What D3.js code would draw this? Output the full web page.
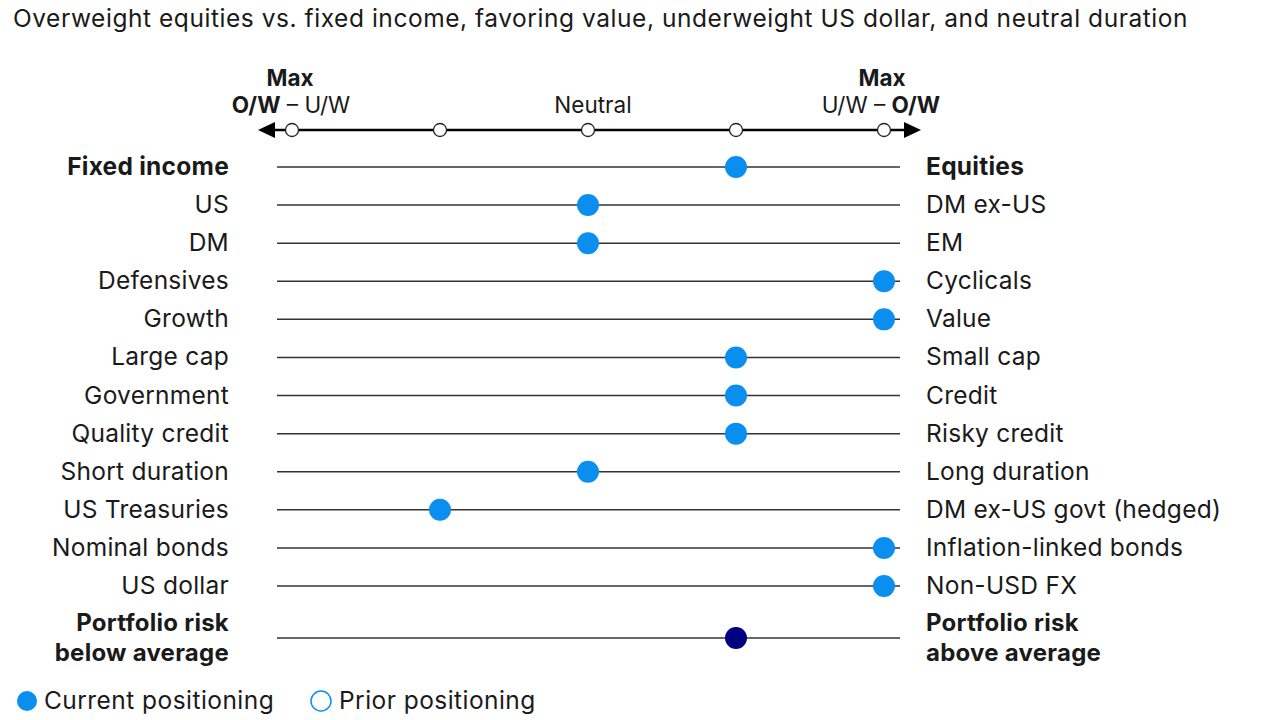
<!DOCTYPE html>
<html>
<head>
<meta charset="utf-8">
<script src="https://cdn.jsdelivr.net/npm/d3@7"></script>
<style>
  body { margin: 0; background: #fff; }
  text { font-family: Inter, "Noto Sans", sans-serif; fill: #1a1a1a; }
</style>
</head>
<body>
<script>
// positioning data: -2 = max left, 0 = neutral, +2 = max right
var leftLabels = ["Fixed income", "US", "DM", "Defensives", "Growth", "Large cap",
    "Government", "Quality credit", "Short duration", "US Treasuries",
    "Nominal bonds", "US dollar", "Portfolio risk|below average"];
var rightLabels = ["Equities", "DM ex-US", "EM", "Cyclicals", "Value", "Small cap",
    "Credit", "Risky credit", "Long duration", "DM ex-US govt (hedged)",
    "Inflation-linked bonds", "Non-USD FX", "Portfolio risk|above average"];
var current = [1, 0, 0, 2, 2, 1, 1, 1, 0, -1, 2, 2, 1];
var boldRows = [0, 12];
var scaleTicks = [-2, -1, 0, 1, 2];

var title = "Overweight equities vs. fixed income, favoring value, underweight US dollar, and neutral duration";

var svg = d3.select("body").append("svg")
    .attr("width", 1280)
    .attr("height", 720);

var x = d3.scaleLinear().domain([-2, 2]).range([292, 884]);

// row centres: 12 evenly spaced rows, last (portfolio risk) a bit lower
var rowY = d3.scaleLinear().domain([0, 11]).range([167, 586]);
function yOf(i) { return i === 12 ? 638 : rowY(i); }

svg.append("text")
    .attr("x", 13).attr("y", 27)
    .style("font-size", "24.5px")
    .style("letter-spacing", "0.55px")
    .text(title);

// header scale
var axisY = 130;
svg.append("line")
    .attr("x1", x(-2) - 20).attr("x2", x(2) + 20)
    .attr("y1", axisY).attr("y2", axisY)
    .attr("stroke", "#000").attr("stroke-width", 2.5);

var lx = x(-2) - 34, rx = x(2) + 37;
svg.append("path")
    .attr("d", "M" + lx + "," + axisY + "L" + (lx + 17) + "," + (axisY - 8) + "L" + (lx + 17) + "," + (axisY + 8) + "Z")
    .attr("fill", "#000");
svg.append("path")
    .attr("d", "M" + rx + "," + axisY + "L" + (rx - 17) + "," + (axisY - 8) + "L" + (rx - 17) + "," + (axisY + 8) + "Z")
    .attr("fill", "#000");

svg.selectAll(".tick")
    .data(scaleTicks)
    .enter().append("circle")
    .attr("cx", function(d) { return x(d); })
    .attr("cy", axisY).attr("r", 6.5)
    .attr("fill", "#fff").attr("stroke", "#222").attr("stroke-width", 1.3);

var head = svg.append("g").style("font-size", "22.5px");
head.append("text").attr("x", x(-2) - 2).attr("y", 86)
    .attr("text-anchor", "middle").style("font-weight", "bold").text("Max");
head.append("text").attr("x", x(2) - 2).attr("y", 86)
    .attr("text-anchor", "middle").style("font-weight", "bold").text("Max");
head.append("text").attr("x", x(0) + 5).attr("y", 113)
    .attr("text-anchor", "middle").text("Neutral");

var hl = head.append("text").attr("x", x(-2) - 1).attr("y", 113).attr("text-anchor", "middle");
hl.append("tspan").style("font-weight", "bold").text("O/W");
hl.append("tspan").text(" \u2013 U/W");
var hr = head.append("text").attr("x", x(2) - 3).attr("y", 113).attr("text-anchor", "middle");
hr.append("tspan").text("U/W \u2013 ");
hr.append("tspan").style("font-weight", "bold").text("O/W");

// rows
var rows = svg.selectAll(".row")
    .data(current)
    .enter().append("g")
    .attr("class", "row")
    .attr("transform", function(d, i) { return "translate(0," + yOf(i) + ")"; });

rows.append("line")
    .attr("x1", 277).attr("x2", 900)
    .attr("stroke", "#333").attr("stroke-width", 1.5);

function addLabel(sel, labels, xPos, anchor) {
    sel.each(function(d, i) {
        var parts = labels[i].split("|");
        var g = d3.select(this);
        parts.forEach(function(p, k) {
            g.append("text")
                .attr("x", xPos)
                .attr("y", parts.length > 1 ? (k === 0 ? -7 : 23) : 8)
                .attr("text-anchor", anchor)
                .style("font-size", parts.length > 1 ? "24px" : "24.5px")
                .style("letter-spacing", "0.25px")
                .style("font-weight", boldRows.indexOf(i) >= 0 ? "bold" : "normal")
                .text(p);
        });
    });
}
addLabel(rows, leftLabels, 229, "end");
addLabel(rows, rightLabels, 926, "start");

rows.append("circle")
    .attr("cx", function(d) { return x(d); })
    .attr("r", 11)
    .attr("fill", function(d, i) { return i === 12 ? "#000080" : "#0a8ff0"; });

// legend
var legend = svg.append("g").attr("transform", "translate(0,701)")
    .style("font-size", "24.5px").style("letter-spacing", "0.45px");
legend.append("circle").attr("cx", 27).attr("r", 10).attr("fill", "#0a8ff0");
legend.append("text").attr("x", 44).attr("y", 8).text("Current positioning");
legend.append("circle").attr("cx", 321).attr("r", 10)
    .attr("fill", "#fff").attr("stroke", "#0a8ff0").attr("stroke-width", 1.5);
legend.append("text").attr("x", 339).attr("y", 8).text("Prior positioning");
</script>
</body>
</html>
